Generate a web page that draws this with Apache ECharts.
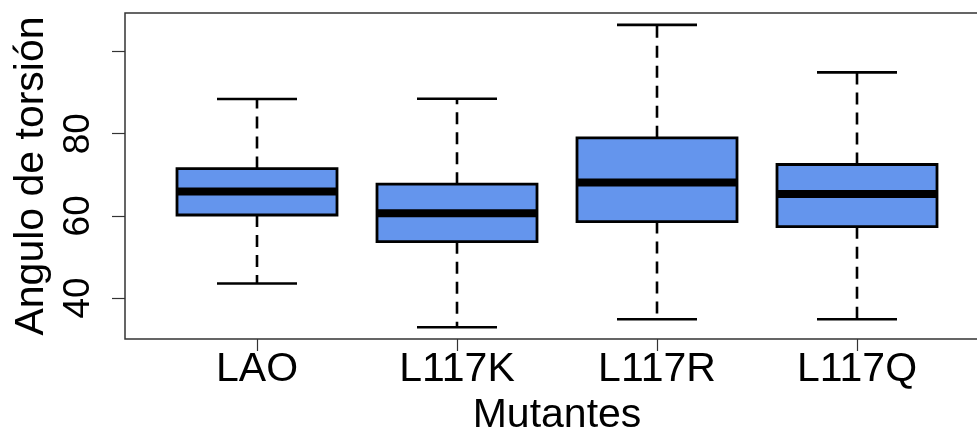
<!DOCTYPE html>
<html>
<head>
<meta charset="utf-8">
<script src="https://cdn.jsdelivr.net/npm/echarts@6/dist/echarts.min.js"></script>
<style>
  html, body { margin: 0; padding: 0; background: #ffffff; }
  #chart { width: 977px; height: 437px; }
</style>
</head>
<body>
<div id="chart"></div>
<script>
// ---- Data ----
const categories   = ['LAO', 'L117K', 'L117R', 'L117Q'];
const whiskerLow   = [43.5, 32.85, 34.8, 34.8];
const quartile1    = [60.2, 53.7, 58.6, 57.35];
const medians      = [65.9, 60.6, 68.1, 65.3];
const quartile3    = [71.5, 67.7, 79.0, 72.5];
const whiskerHigh  = [88.45, 88.5, 106.5, 94.95];
const yTickValues  = [40, 60, 80, 100];
const yLabelValues = [40, 60, 80];
const xPositions   = [1, 2, 3, 4];

const FONT = '"Liberation Sans", Arial, Helvetica, sans-serif';

const boxData = categories.map((c, i) => [
  xPositions[i], whiskerLow[i], quartile1[i], medians[i], quartile3[i], whiskerHigh[i]
]);

function renderBox(params, api) {
  const x = api.value(0);
  const pLow = api.coord([x, api.value(1)]);
  const pQ1  = api.coord([x, api.value(2)]);
  const pMed = api.coord([x, api.value(3)]);
  const pQ3  = api.coord([x, api.value(4)]);
  const pHigh = api.coord([x, api.value(5)]);
  const halfBox = api.size([0.4, 0])[0];
  const halfCap = api.size([0.2, 0])[0];
  const cx = pMed[0];
  const dash = { stroke: '#000', lineWidth: 2.6, lineDash: [12, 8], fill: null };
  const solid = { stroke: '#000', lineWidth: 2.6, fill: null };
  return {
    type: 'group',
    children: [
      { type: 'line', shape: { x1: cx, y1: pQ3[1], x2: cx, y2: pHigh[1] }, style: dash },
      { type: 'line', shape: { x1: cx, y1: pQ1[1], x2: cx, y2: pLow[1] }, style: dash },
      { type: 'line', shape: { x1: cx - halfCap, y1: pHigh[1], x2: cx + halfCap, y2: pHigh[1] }, style: solid },
      { type: 'line', shape: { x1: cx - halfCap, y1: pLow[1], x2: cx + halfCap, y2: pLow[1] }, style: solid },
      { type: 'rect',
        shape: { x: cx - halfBox, y: pQ3[1], width: 2 * halfBox, height: pQ1[1] - pQ3[1] },
        style: { fill: '#6495ED', stroke: '#000', lineWidth: 2.8 } },
      { type: 'line', shape: { x1: cx - halfBox, y1: pMed[1], x2: cx + halfBox, y2: pMed[1] },
        style: { stroke: '#000', lineWidth: 8, lineCap: 'butt' } }
    ]
  };
}

const chart = echarts.init(document.getElementById('chart'), null, { renderer: 'canvas' });
chart.setOption({
  animation: false,
  backgroundColor: '#ffffff',
  textStyle: { fontFamily: FONT },
  grid: {
    left: 125, top: 13, width: 864, height: 326,
    outerBoundsMode: 'none',
    containLabel: false,
    show: true, borderColor: '#333', borderWidth: 1.5, backgroundColor: 'transparent'
  },
  xAxis: {
    type: 'value',
    min: 0.34, max: 4.66,
    splitLine: { show: false },
    axisLine: { show: false },
    axisTick: { show: true, length: 12, customValues: xPositions, lineStyle: { color: '#333', width: 1.2 } },
    axisLabel: {
      customValues: xPositions,
      formatter: v => categories[Math.round(v) - 1] || '',
      fontSize: 41, color: '#000', fontFamily: FONT, margin: 10
    },
    name: 'Mutantes',
    nameLocation: 'middle',
    nameGap: 52,
    nameTextStyle: { fontSize: 41, color: '#000', fontFamily: FONT }
  },
  yAxis: {
    type: 'value',
    min: 30, max: 109.4,
    splitLine: { show: false },
    axisLine: { show: false },
    axisTick: { show: true, length: 13, customValues: yTickValues, lineStyle: { color: '#333', width: 1.2 } },
    axisLabel: {
      customValues: yLabelValues,
      rotate: 90,
      fontSize: 37, color: '#000', fontFamily: FONT, margin: 28
    },
    name: 'Angulo de torsión',
    nameLocation: 'middle',
    nameGap: 72,
    nameRotate: 90,
    nameTextStyle: { fontSize: 41, color: '#000', fontFamily: FONT }
  },
  series: [{
    type: 'custom',
    renderItem: renderBox,
    encode: { x: 0, y: [1, 2, 3, 4, 5] },
    data: boxData,
    clip: false
  }]
});
</script>
</body>
</html>
